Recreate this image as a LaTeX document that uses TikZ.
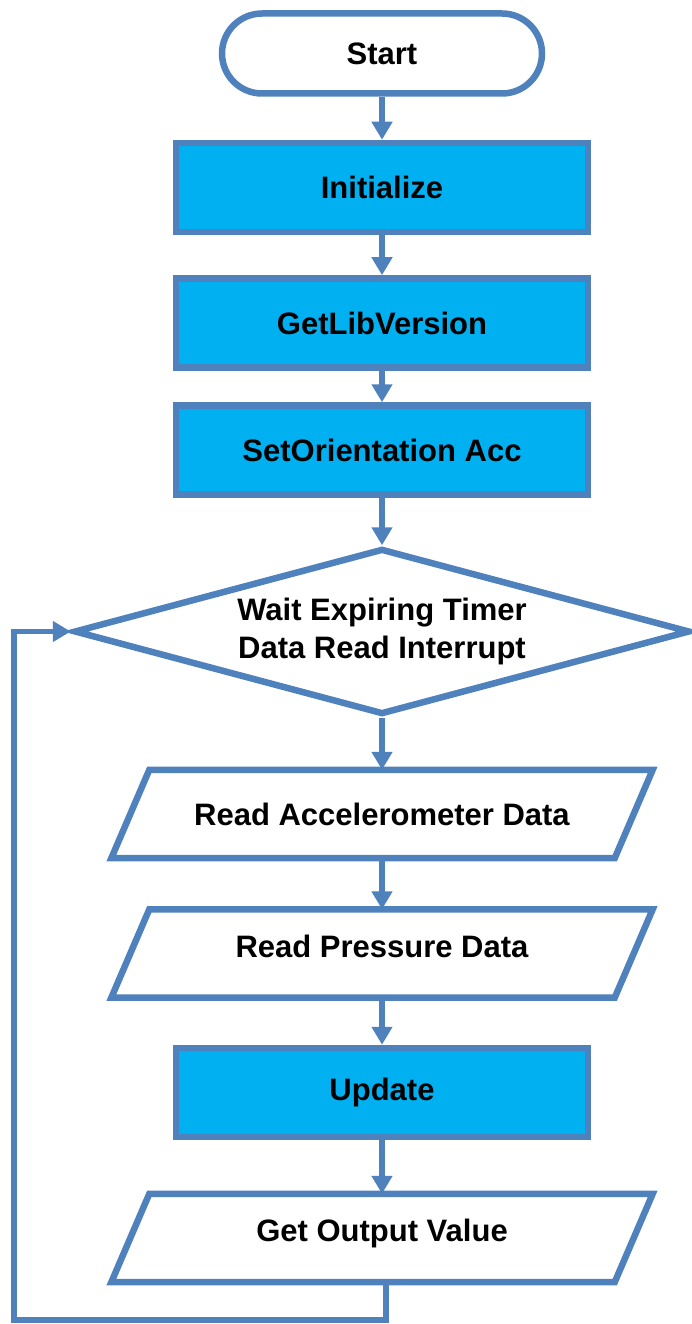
\documentclass[tikz,border=0pt]{standalone}
\usepackage{fontspec}
\setmainfont{Liberation Sans}
\usetikzlibrary{shapes.geometric,arrows.meta}
\definecolor{edgeblue}{HTML}{4F81BD}
\definecolor{fillcyan}{HTML}{00B0F0}
\tikzset{
  txt/.style={font=\fontsize{31}{38}\selectfont\bfseries, align=center, inner sep=0pt},
  base/.style={txt, line width=6.5pt, draw=edgeblue},
  term/.style={base, rectangle, rounded corners=40pt, minimum width=320pt, minimum height=80pt, fill=white},
  proc/.style={base, rectangle, minimum width=412pt, minimum height=89pt, fill=fillcyan},
  iobox/.style={txt, rectangle, minimum width=503pt, minimum height=88pt},
  dec/.style={base, diamond, aspect=3.65, minimum width=616pt, minimum height=166pt, fill=white},
  iopath/.style={line width=6.5pt, draw=edgeblue, fill=white, line join=miter},
  flow/.style={line width=5.5pt, draw=edgeblue, -{Triangle[width=20pt,length=18pt]}}
}
\begin{document}
\begin{tikzpicture}[x=1pt,y=-1pt]
\useasboundingbox (0,0) rectangle (691,1324);
\node[term] (start) at (382,53.5) {Start};
\node[proc] (init) at (382,187.5) {Initialize};
\node[proc] (lib) at (382,323) {GetLibVersion};
\node[proc] (orient) at (382,450) {SetOrientation Acc};
\node[dec] (wait) at (382,631.5) {Wait Expiring Timer\\Data Read Interrupt};
\node[iobox] (acc) at (382,814) {};
\node[iobox] (press) at (382,953.5) {};
\node[proc] (upd) at (382,1092.5) {Update};
\node[iobox] (outv) at (382,1238) {};
\foreach \n in {acc,press,outv}{
  \draw[iopath] ([xshift=19pt]\n.north west) -- ([xshift=19pt]\n.north east)
     -- ([xshift=-19pt]\n.south east) -- ([xshift=-19pt]\n.south west) -- cycle;
}
\node[iobox] at (acc) {Read Accelerometer Data};
\node[iobox] at ([yshift=7pt]press.center) {Read Pressure Data};
\node[iobox] at ([yshift=5pt]outv.center) {Get Output Value};
\draw[flow] (start) -- (init);
\draw[flow] (init) -- (lib);
\draw[flow] (lib) -- (orient);
\draw[flow] (orient) -- (wait);
\draw[flow] (wait) -- (acc);
\draw[flow] (acc) -- (press);
\draw[flow] (press) -- (upd);
\draw[flow] (upd) -- (outv);
\coordinate (c1) at (386,1320);
\coordinate (c2) at (14,1320);
\coordinate (c3) at (14,631.5);
\draw[flow] ([xshift=4pt]outv.south) -- (c1) -- (c2) -- (c3) -- (wait.west);
\end{tikzpicture}
\end{document}
